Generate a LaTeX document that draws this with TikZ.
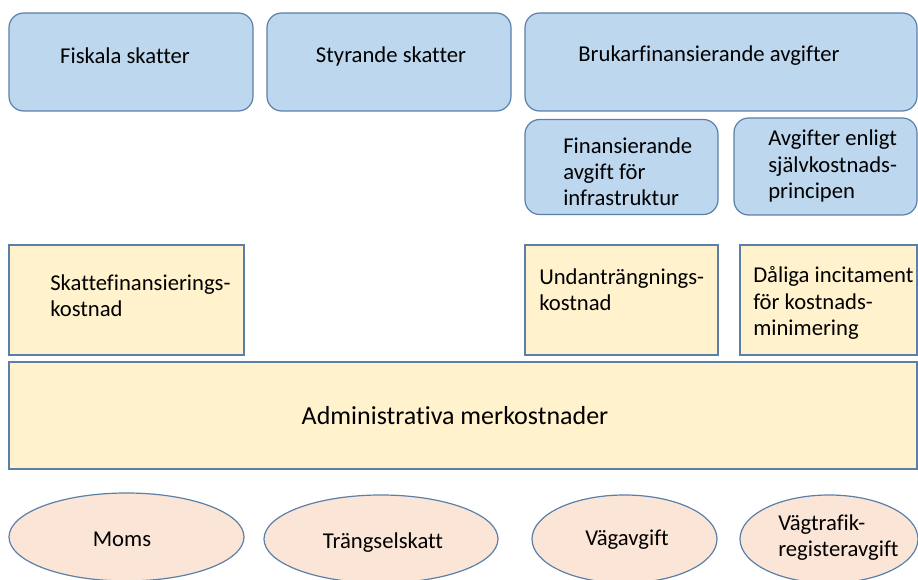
\documentclass[tikz,border=0pt]{standalone}
\usepackage{fontspec}
\setmainfont[Ligatures={NoCommon}]{Carlito}
\usetikzlibrary{shapes.geometric}
\definecolor{blafill}{HTML}{BDD7EE}
\definecolor{gulfill}{HTML}{FFF2CC}
\definecolor{rosafill}{HTML}{FBE5D6}
\definecolor{kant}{HTML}{5A7FA8}
\begin{document}
\begin{tikzpicture}[x=0.75pt,y=-0.75pt]
        \tikzstyle{avgift} = [rectangle, rounded corners=11pt, fill=blafill, draw=kant, line width=0.9pt, inner sep=0pt]
        \tikzstyle{kostnad} = [rectangle, fill=gulfill, draw=kant, line width=0.9pt, inner sep=0pt]
        \tikzstyle{skatt} = [ellipse, fill=rosafill, draw=kant, line width=0.9pt, inner sep=0pt]
        \tikzstyle{txt} = [font=\fontsize{17}{19.6}\selectfont, align=left, inner sep=0pt]
        \useasboundingbox (0,0) rectangle (918,580);
        % skatter och avgifter
        \node (fiskala) [avgift, minimum width=183pt, minimum height=73.5pt] at (131, 62) {};
        \node (styrande) [avgift, minimum width=183pt, minimum height=73.5pt] at (389, 62) {};
        \node (brukar) [avgift, minimum width=294pt, minimum height=73.5pt] at (721, 62) {};
        \node (finans) [avgift, minimum width=144.75pt, minimum height=71.25pt] at (621.5, 167) {};
        \node (sjalv) [avgift, minimum width=137.25pt, minimum height=72.75pt] at (825.5, 166.5) {};
        \node (fiskalaT) [txt] at (125, 56) {Fiskala skatter};
        \node (styrandeT) [txt] at (391, 56) {Styrande skatter};
        \node (brukarT) [txt] at (709, 56) {Brukarfinansierande avgifter};
        \node (finansT) [txt, anchor=west] at (563, 172) {Finansierande\\avgift för\\infrastruktur};
        \node (sjalvT) [txt, anchor=west] at (768, 166) {Avgifter enligt\\självkostnads-\\principen};
        % kostnader
        \node (skattefin) [kostnad, minimum width=176.25pt, minimum height=82.5pt] at (126.5, 300) {};
        \node (undan) [kostnad, minimum width=144.75pt, minimum height=82.5pt] at (621.5, 300) {};
        \node (daliga) [kostnad, minimum width=132.75pt, minimum height=82.5pt] at (828.5, 300) {};
        \node (admin) [kostnad, minimum width=681pt, minimum height=80.25pt] at (463, 415.5) {};
        \node (skattefinT) [txt, anchor=west] at (50, 296) {Skattefinansierings-\\kostnad};
        \node (undanT) [txt, anchor=west] at (539, 290) {Undanträngnings-\\kostnad};
        \node (daligaT) [txt, anchor=west] at (753, 303) {Dåliga incitament\\för kostnads-\\minimering};
        \node (adminT) [txt, font=\fontsize{19.5}{22}\selectfont] at (455, 416) {Administrativa merkostnader};
        % exempel
        \node (moms) [skatt, minimum width=176.25pt, minimum height=66pt] at (126.5, 537) {};
        \node (trangsel) [skatt, minimum width=175.5pt, minimum height=66pt] at (381, 539) {};
        \node (vag) [skatt, minimum width=138.75pt, minimum height=66pt] at (624.5, 539) {};
        \node (vagtrafik) [skatt, minimum width=133.5pt, minimum height=66pt] at (829, 539) {};
        \node (momsT) [txt] at (122, 539) {Moms};
        \node (trangselT) [txt] at (383, 543) {Trängselskatt};
        \node (vagT) [txt] at (627, 540) {Vägavgift};
        \node (vagtrafikT) [txt, anchor=west] at (778, 538) {Vägtrafik-\\registeravgift};
    \end{tikzpicture}
\end{document}
